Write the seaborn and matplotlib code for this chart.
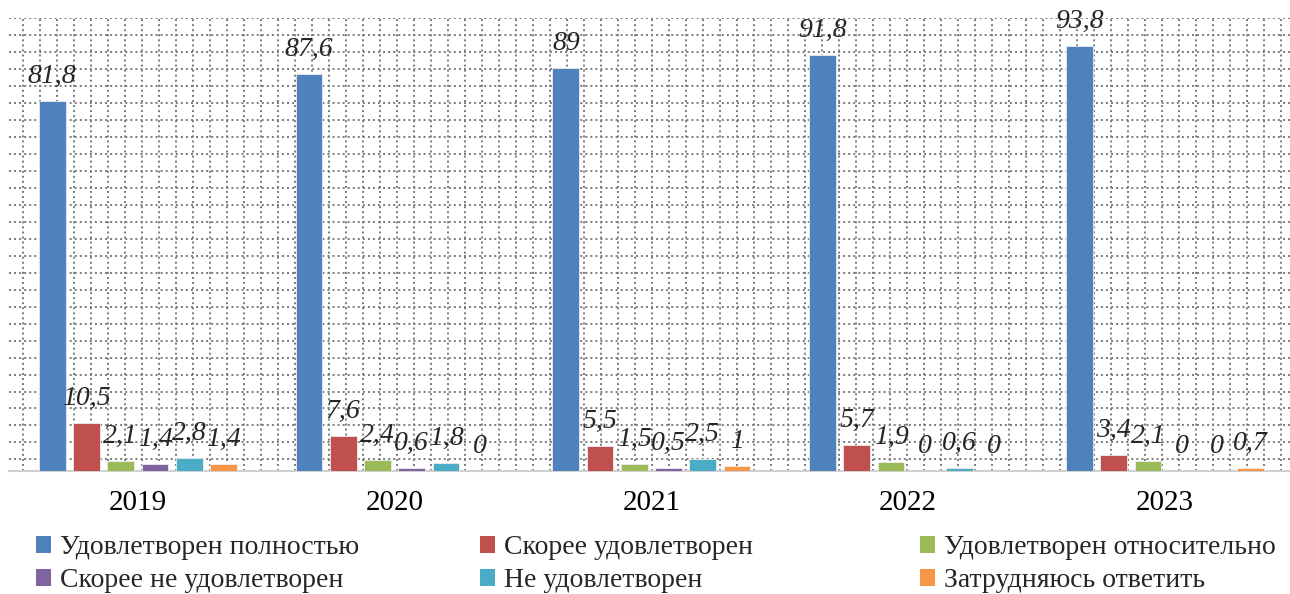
import numpy as np
import pandas as pd
import matplotlib
matplotlib.use("Agg")
import matplotlib.pyplot as plt
import seaborn as sns
from matplotlib.patches import Patch

# Survey results by year, %
years = ["2019", "2020", "2021", "2022", "2023"]
categories = [
    "Удовлетворен полностью",
    "Скорее удовлетворен",
    "Удовлетворен относительно",
    "Скорее не удовлетворен",
    "Не удовлетворен",
    "Затрудняюсь ответить",
]
fully = [81.8, 87.6, 89, 91.8, 93.8]
rather_yes = [10.5, 7.6, 5.5, 5.7, 3.4]
relatively = [2.1, 2.4, 1.5, 1.9, 2.1]
rather_no = [1.4, 0.6, 0.5, 0, 0]
not_satisfied = [2.8, 1.8, 2.5, 0.6, 0]
hard_to_say = [1.4, 0, 1, 0, 0.7]

colors = ["#4F81BD", "#C0504D", "#9BBB59", "#8064A2", "#4BACC6", "#F79646"]

series = [fully, rather_yes, relatively, rather_no, not_satisfied, hard_to_say]
df = pd.DataFrame(
    [(y, c, v) for c, vals in zip(categories, series) for y, v in zip(years, vals)],
    columns=["year", "category", "value"],
)

sns.set_style("white")
plt.rcParams["font.family"] = ["Liberation Serif", "DejaVu Serif"]
SERIF = ["Liberation Serif", "DejaVu Serif"]

W, H = 1290, 594
fig = plt.figure(figsize=(W / 100, H / 100), dpi=100)
left_px, right_px, top_px, base_px = 9.4, 1293.4, 18.3, 470.7
ax = fig.add_axes([left_px / W, (H - base_px) / H,
                   (right_px - left_px) / W, (base_px - top_px) / H])

sns.barplot(data=df, x="year", y="value", hue="category", hue_order=categories,
            palette=colors, width=0.8, gap=0.22, saturation=1, legend=False,
            edgecolor="#EDEDED", linewidth=0.6, ax=ax, zorder=3)

ax.set_xlim(-0.5, 4.5)
ax.set_ylim(0, 100)

# dotted square background grid
x_step = 17.0 / (right_px - left_px) * 5
x0 = -0.5 + (22.7 - left_px) / (right_px - left_px) * 5
xgrid = x0 + x_step * np.arange(0, 75)
ygrid = 100 - 3.75 * np.arange(0, 27)
ax.set_xticks(xgrid, minor=True)
ax.set_yticks(ygrid, minor=True)
ax.set_yticks([])
ax.grid(which="major", visible=False)
ax.grid(which="minor", color="#7A7A7A", linestyle=(0, (1, 1.6)), linewidth=1.4)
ax.set_axisbelow(True)
ax.tick_params(which="minor", length=0)
ax.tick_params(axis="x", which="major", length=0, pad=14, labelsize=21, labelcolor="black")
for lab in ax.get_xticklabels():
    lab.set_family(SERIF)

for s in ["left", "right", "top"]:
    ax.spines[s].set_visible(False)
ax.spines["bottom"].set_color("#D0D0D0")
ax.spines["bottom"].set_linewidth(1.5)
ax.set_xlabel("")
ax.set_ylabel("")


def fmt(v):
    return str(int(v)) if float(v).is_integer() else f"{v}".replace(".", ",")


for cont, vals in zip(ax.containers, series):
    for bar, v in zip(cont.patches, vals):
        ax.annotate(fmt(v), (bar.get_x() + bar.get_width() / 2, bar.get_height()),
                    xytext=(0, 13), textcoords="offset points", ha="center",
                    va="baseline", fontsize=20, fontstyle="italic",
                    family=SERIF, zorder=5)

# legend laid out in three columns, two rows
handles = [Patch(facecolor=c, edgecolor="none") for c in colors]
col_x = [36, 480, 920]
for i, x in enumerate(col_x):
    idx = [i, i + 3]
    fig.legend([handles[j] for j in idx], [categories[j] for j in idx],
               loc="upper left", bbox_to_anchor=(x / W, 1 - 535 / H),
               frameon=False, prop={"family": SERIF, "size": 20},
               borderpad=0, borderaxespad=0,
               handlelength=0.55, handleheight=0.55, handletextpad=0.3,
               labelspacing=0.3)

fig.savefig("out.png", dpi=100)
